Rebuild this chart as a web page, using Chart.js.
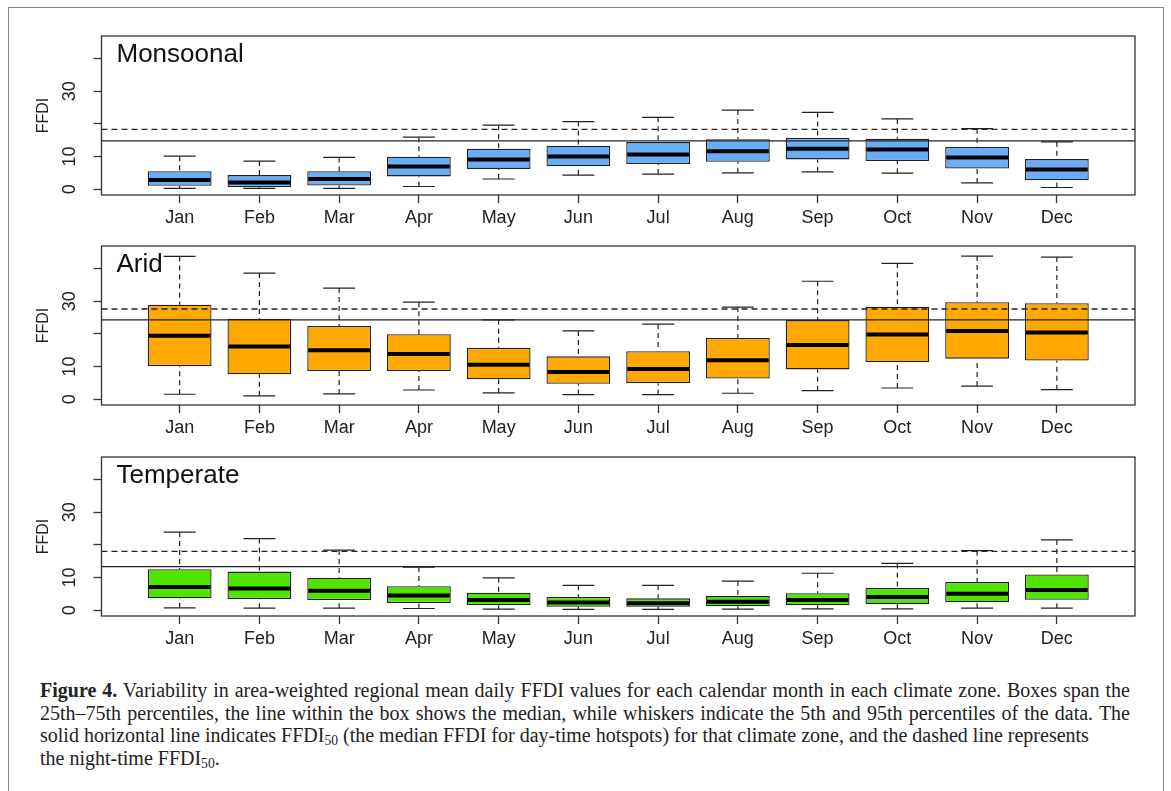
<!DOCTYPE html>
<html>
<head>
<meta charset="utf-8">
<script src="https://cdn.jsdelivr.net/npm/chart.js@4/dist/chart.umd.min.js"></script>
<style>
  body { margin: 0; background: #fff; width: 1171px; height: 791px; overflow: hidden; position: relative; }
  #frame { position: absolute; left: 8px; top: 7px; width: 1154px; height: 800px; border: 1.5px solid #8a8a8a; }
  canvas { position: absolute; left: 20px; }
  #caption { position: absolute; left: 40px; top: 679px; width: 1090px; font-family: "Liberation Serif", serif;
             font-size: 20px; line-height: 22.5px; color: #222; }
  #caption .l { text-align: justify; text-align-last: justify; }
  #caption .n { white-space: nowrap; }
  #caption sub { font-size: 0.68em; line-height: 0; vertical-align: -0.25em; }
</style>
</head>
<body>
<div id="frame"></div>
<canvas id="pMon" width="1130" height="210" style="top:25px"></canvas>
<canvas id="pAri" width="1130" height="210" style="top:235px"></canvas>
<canvas id="pTem" width="1130" height="210" style="top:446px"></canvas>
<div id="caption">
  <div class="l"><b>Figure 4.</b> Variability in area-weighted regional mean daily FFDI values for each calendar month in each climate zone. Boxes span the</div>
  <div class="l">25th–75th percentiles, the line within the box shows the median, while whiskers indicate the 5th and 95th percentiles of the data. The</div>
  <div class="n">solid horizontal line indicates FFDI<sub>50</sub> (the median FFDI for day-time hotspots) for that climate zone, and the dashed line represents</div>
  <div>the night-time FFDI<sub>50</sub>.</div>
</div>
<script>
const months = ['Jan', 'Feb', 'Mar', 'Apr', 'May', 'Jun', 'Jul', 'Aug', 'Sep', 'Oct', 'Nov', 'Dec'];
const yTicks = [0, 10, 20, 30, 40];
const yTickLabels = ['0', '10', '', '30', ''];

// Monsoonal: 5th, 25th, median, 75th, 95th percentiles
const monLow  = [0.2, 0.2, 0.2, 0.8, 3.1, 4.3, 4.6, 5.0, 5.3, 4.9, 1.9, 0.5];
const monQ1   = [1.0, 0.6, 1.1, 3.9, 6.2, 7.0, 7.7, 8.4, 9.1, 8.6, 6.3, 2.7];
const monMed  = [2.8, 2.0, 3.1, 6.9, 9.1, 10.0, 10.6, 11.6, 12.4, 12.1, 9.7, 6.0];
const monQ3   = [5.5, 4.3, 5.5, 9.9, 12.4, 13.3, 14.4, 15.3, 15.7, 15.4, 12.9, 9.2];
const monHigh = [10.1, 8.6, 9.7, 15.9, 19.6, 20.7, 22.0, 24.2, 23.5, 21.5, 18.5, 14.5];
const monDay = 14.8, monNight = 18.3;

// Arid
const ariLow  = [1.5, 1.0, 1.6, 2.8, 1.9, 1.4, 1.4, 1.8, 2.6, 3.4, 4.0, 2.9];
const ariQ1   = [10.1, 7.6, 8.6, 8.6, 6.1, 4.7, 4.9, 6.3, 9.1, 11.3, 12.4, 11.8];
const ariMed  = [19.4, 16.1, 15.0, 13.8, 10.5, 8.3, 9.2, 11.9, 16.6, 19.8, 20.9, 20.4];
const ariQ3   = [28.9, 24.6, 22.4, 19.9, 15.7, 13.1, 14.7, 18.7, 24.2, 28.3, 29.7, 29.4];
const ariHigh = [43.7, 38.6, 34.0, 29.7, 24.3, 20.9, 23.0, 28.2, 36.1, 41.6, 43.8, 43.5];
const ariDay = 24.3, ariNight = 27.6;

// Temperate
const temLow  = [0.7, 0.6, 0.6, 0.5, 0.3, 0.2, 0.2, 0.3, 0.4, 0.4, 0.6, 0.6];
const temQ1   = [3.6, 3.4, 3.1, 2.2, 1.5, 1.0, 1.0, 1.2, 1.5, 1.9, 2.4, 3.2];
const temMed  = [7.1, 6.6, 5.9, 4.5, 3.1, 2.3, 2.1, 2.6, 3.1, 4.0, 5.0, 6.2];
const temQ3   = [12.5, 11.8, 9.9, 7.3, 5.3, 4.0, 3.6, 4.3, 5.2, 6.8, 8.6, 10.9];
const temHigh = [23.9, 21.9, 18.4, 13.2, 9.9, 7.6, 7.6, 8.9, 11.3, 14.3, 18.2, 21.5];
const temDay = 13.3, temNight = 18.0;

// whiskers, medians, FFDI50 lines, frame and panel title
const boxExtras = {
  id: 'boxExtras',
  beforeDatasetsDraw(chart) {
    const ds = chart.data.datasets[0];
    const y = chart.scales.y;
    const ctx = chart.ctx;
    ctx.save();
    ctx.strokeStyle = '#222';
    ctx.lineWidth = 1.2;
    chart.getDatasetMeta(0).data.forEach((bar, i) => {
      const cap = bar.width * 0.25;
      const pts = [[ds.data[i].y[1], ds.high[i]], [ds.data[i].y[0], ds.low[i]]];
      pts.forEach(([from, to]) => {
        const y0 = y.getPixelForValue(from), y1 = y.getPixelForValue(to);
        ctx.setLineDash([5, 4]);
        ctx.beginPath(); ctx.moveTo(bar.x, y1); ctx.lineTo(bar.x, y0); ctx.stroke();
        ctx.setLineDash([]);
        ctx.beginPath(); ctx.moveTo(bar.x - cap, y1); ctx.lineTo(bar.x + cap, y1); ctx.stroke();
      });
    });
    ctx.restore();
  },
  afterDatasetsDraw(chart) {
    const ds = chart.data.datasets[0];
    const y = chart.scales.y;
    const a = chart.chartArea;
    const ctx = chart.ctx;
    ctx.save();
    ctx.strokeStyle = '#000';
    ctx.lineWidth = 4;
    chart.getDatasetMeta(0).data.forEach((bar, i) => {
      const ym = y.getPixelForValue(ds.med[i]);
      ctx.beginPath(); ctx.moveTo(bar.x - bar.width / 2 + 1, ym); ctx.lineTo(bar.x + bar.width / 2 - 1, ym); ctx.stroke();
    });
    ctx.strokeStyle = '#222';
    ctx.lineWidth = 1.3;
    const yd = y.getPixelForValue(ds.day);
    ctx.beginPath(); ctx.moveTo(a.left, yd); ctx.lineTo(a.right, yd); ctx.stroke();
    const yn = y.getPixelForValue(ds.night);
    ctx.setLineDash([6, 4]);
    ctx.beginPath(); ctx.moveTo(a.left, yn); ctx.lineTo(a.right, yn); ctx.stroke();
    ctx.setLineDash([]);
    ctx.strokeStyle = '#333';
    ctx.strokeRect(a.left, a.top, a.right - a.left, a.bottom - a.top);
    ctx.fillStyle = '#111';
    ctx.font = '26px "Liberation Sans", Arial, sans-serif';
    ctx.textBaseline = 'alphabetic';
    ctx.fillText(ds.label, a.left + 15, a.top + 26);
    ctx.restore();
  }
};

function makePanel(id, title, color, low, q1, med, q3, high, day, night) {
  new Chart(document.getElementById(id), {
    type: 'bar',
    data: {
      datasets: [{
        label: title,
        data: months.map((m, i) => ({ x: i + 1, y: [q1[i], q3[i]] })),
        low: low, med: med, high: high, day: day, night: night,
        backgroundColor: color,
        borderColor: '#222',
        borderWidth: 1.3,
        borderSkipped: false,
        barPercentage: 0.8,
        categoryPercentage: 1.0
      }]
    },
    options: {
      responsive: false,
      animation: false,
      layout: { padding: { top: 11, right: 15, bottom: 0, left: 0 } },
      plugins: { legend: { display: false }, tooltip: { enabled: false } },
      scales: {
        x: {
          type: 'linear', offset: false, min: 0.02, max: 12.98,
          afterBuildTicks: s => { s.ticks = months.map((m, i) => ({ value: i + 1 })); },
          afterFit: s => { s.height = 40; s.paddingLeft = 0; s.paddingRight = 0; },
          grid: { drawOnChartArea: false, offset: false, tickLength: 8, tickColor: '#333', tickWidth: 1.3 },
          border: { display: false },
          ticks: { callback: v => months[v - 1], color: '#222', padding: 4, maxRotation: 0,
                   font: { family: '"Liberation Sans", Arial, sans-serif', size: 18 } }
        },
        y: {
          min: -1.8, max: 46.9,
          afterBuildTicks: s => { s.ticks = yTicks.map(v => ({ value: v })); },
          afterFit: s => { s.width = 81.5; s.paddingTop = 0; s.paddingBottom = 0; },
          grid: { drawOnChartArea: false, tickLength: 8, tickColor: '#333', tickWidth: 1.3 },
          border: { display: false },
          ticks: { callback: v => yTickLabels[yTicks.indexOf(v)], color: '#222', padding: 13,
                   minRotation: 90, maxRotation: 90, crossAlign: 'center',
                   font: { family: '"Liberation Sans", Arial, sans-serif', size: 18 } },
          title: { display: true, text: 'FFDI', color: '#222', padding: { top: 14, bottom: 0 },
                   font: { family: '"Liberation Sans", Arial, sans-serif', size: 16 } }
        }
      }
    },
    plugins: [boxExtras]
  });
}

makePanel('pMon', 'Monsoonal', '#68ADF5', monLow, monQ1, monMed, monQ3, monHigh, monDay, monNight);
makePanel('pAri', 'Arid', '#FFA800', ariLow, ariQ1, ariMed, ariQ3, ariHigh, ariDay, ariNight);
makePanel('pTem', 'Temperate', '#4FE500', temLow, temQ1, temMed, temQ3, temHigh, temDay, temNight);
</script>
</body>
</html>
